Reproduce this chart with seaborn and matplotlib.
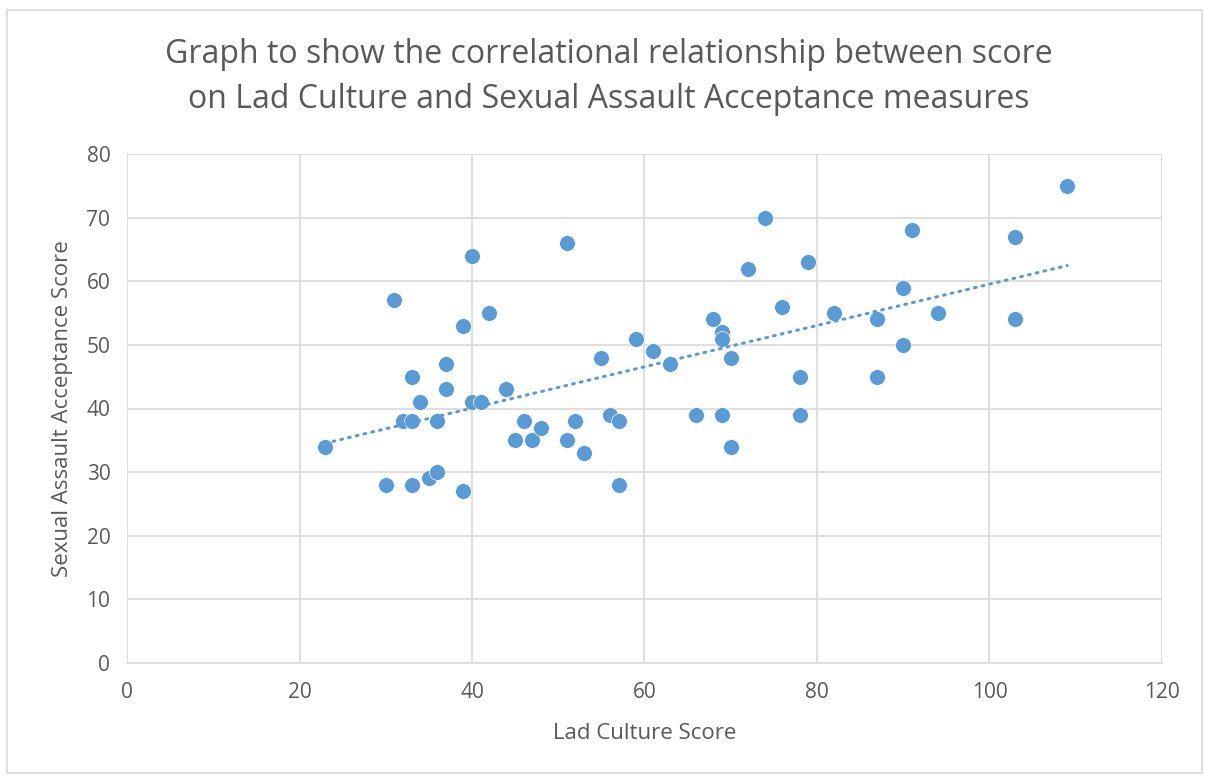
import numpy as np
import pandas as pd
import matplotlib
matplotlib.use("Agg")
import matplotlib.pyplot as plt
import seaborn as sns
from matplotlib.patches import Rectangle

lad_culture = [23, 30, 31, 32, 33, 33, 33, 34, 35, 36, 36, 37, 37, 39, 39, 40, 40, 41, 42, 44,
               45, 46, 47, 48, 51, 51, 52, 53, 55, 56, 57, 57, 59, 61, 63, 66, 68, 69, 69, 69,
               70, 70, 72, 74, 76, 78, 78, 79, 82, 87, 87, 90, 90, 91, 94, 103, 103, 109]
assault_accept = [34, 28, 57, 38, 38, 45, 28, 41, 29, 30, 38, 47, 43, 53, 27, 64, 41, 41, 55, 43,
                  35, 38, 35, 37, 66, 35, 38, 33, 48, 39, 38, 28, 51, 49, 47, 39, 54, 52, 51, 39,
                  48, 34, 62, 70, 56, 45, 39, 63, 55, 54, 45, 59, 50, 68, 55, 67, 54, 75]

title = "Graph to show the correlational relationship between score\non Lad Culture and Sexual Assault Acceptance measures"
x_label = "Lad Culture Score"
y_label = "Sexual Assault Acceptance Score"
x_ticks = [0, 20, 40, 60, 80, 100, 120]
y_ticks = [0, 10, 20, 30, 40, 50, 60, 70, 80]

df = pd.DataFrame({"x": lad_culture, "y": assault_accept})

sns.set_theme(style="white")
plt.rcParams['font.family'] = ['Open Sans', 'DejaVu Sans']

blue = "#5B9BD5"
grey_text = "#595959"
grid_c = "#D9D9D9"

fig = plt.figure(figsize=(12.05, 7.76), dpi=100)
ax = fig.add_axes([127/1205, 1-663/776, (1162-127)/1205, (663-154)/776])

# outer chart border
fig.patches.append(Rectangle((7/1205, 3/776), 1195/1205, 763/776, transform=fig.transFigure,
                             fill=False, edgecolor=grid_c, linewidth=1.2))

sns.scatterplot(data=df, x="x", y="y", ax=ax, color=blue, s=130, edgecolor="white",
                linewidth=0.5, zorder=3)

# linear trendline
coef = np.polyfit(df["x"], df["y"], 1)
xs = np.array([min(lad_culture), max(lad_culture)])
sns.lineplot(x=xs, y=np.polyval(coef, xs), ax=ax, color=blue, linewidth=2.2,
             linestyle=(0, (0.6, 2.0)), dash_capstyle="round", zorder=4)

ax.set_xlim(0, 120)
ax.set_ylim(0, 80)
ax.set_xticks(x_ticks)
ax.set_yticks(y_ticks)
ax.grid(True, color=grid_c, linewidth=1.2)
ax.set_axisbelow(True)
for side in ["top", "right", "left"]:
    ax.spines[side].set_visible(False)
ax.spines["bottom"].set_color(grid_c)
ax.spines["bottom"].set_linewidth(1.2)
ax.tick_params(axis="both", colors=grey_text, labelsize=15, length=0, pad=12)
ax.tick_params(axis="x", pad=14)

ax.set_xlabel(x_label, fontsize=16, color=grey_text, labelpad=14)
ax.set_ylabel(y_label, fontsize=16, color=grey_text, labelpad=10)

fig.text(609/1205, 1-77/776, title, ha="center", va="center", fontsize=23,
         color=grey_text, linespacing=1.45)

fig.savefig("out.png", dpi=100)
